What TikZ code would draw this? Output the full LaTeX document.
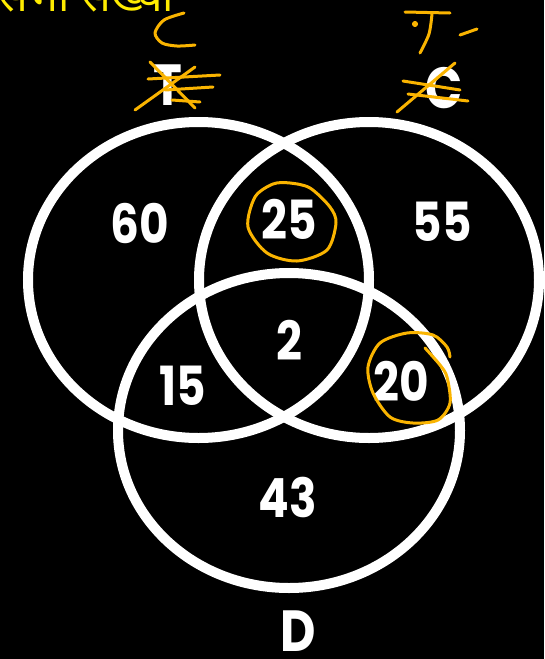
\documentclass[tikz,border=0pt]{standalone}
\usepackage{fontspec}
\setmainfont{Poppins}
\newfontfamily\devafont[Script=Devanagari]{Noto Sans}
\usepackage{graphicx}
\usepackage{xcolor}
\definecolor{marca}{RGB}{250,180,0}
\definecolor{amarillo}{RGB}{255,236,0}
\newcommand{\angosto}[1]{\scalebox{0.84}[1]{#1}}

\begin{document}
\begin{tikzpicture}[
		x=1pt, y=-1pt,
		anillo/.style={draw=white, line width=10pt},
		num/.style={text=white, inner sep=0pt, font=\fontsize{54}{54}\selectfont\bfseries},
		etiqueta/.style={num, font=\fontsize{58}{58}\selectfont\bfseries},
		marca/.style={draw=marca, line width=3pt, line cap=round, line join=round}
		]
		
		% Fondo
		\fill[black] (0,0) rectangle (544,659);
		\useasboundingbox (0,0) rectangle (544,659);
		\clip (0,0) rectangle (544,659);
		
		% Texto cortado arriba
		\node[anchor=base west, inner sep=0pt, text=amarillo, font=\devafont\fontsize{44}{44}\selectfont\bfseries] (titulo) at (-2,11) {सभी संख्या};
		
		% Círculos
		\coordinate (cT) at (198.5,280);
		\coordinate (cC) at (369,280);
		\coordinate (cD) at (289,430.5);
		\draw[anillo] (cT) ellipse [x radius=170.5, y radius=158];
		\draw[anillo] (cC) ellipse [x radius=170, y radius=158];
		\draw[anillo] (cD) ellipse [x radius=171, y radius=157.5];
		
		% Números
		\node[num] (n60) at (140,223) {\angosto{60}};
		\node[num] (n25) at (289,219) {\angosto{25}};
		\node[num] (n55) at (442,222) {\angosto{55}};
		\node[num] (n2) at (289,340) {\angosto{2}};
		\node[num] (n15) at (183,386) {\angosto{15}};
		\node[num] (n20) at (401,381) {\angosto{20}};
		\node[num] (n43) at (288,497) {\angosto{43}};
		
		% Etiquetas
		\node[etiqueta] (labT) at (168,85) {\angosto{T}};
		\node[etiqueta] (labC) at (444,88) {\angosto{C}};
		\node[etiqueta] (labD) at (298,631) {\angosto{D}};
		
		% Anotaciones
		\draw[marca] plot[smooth] coordinates {(184,13) (164,20) (155,33) (162,43) (177,46) (195,45)};
		\draw[marca] (148,79) -- (220,75);
		\draw[marca] (135,110) -- (195,67);
		\draw[marca] (150,62) -- (195,108);
		\draw[marca] (165,90) -- (213,87);
		\draw[marca] (172,100) -- (200,102);
		
		\draw[marca] (405,12) -- (450,13);
		\draw[marca] plot[smooth] coordinates {(432,14) (429,34) (420,53)};
		\fill[marca] (415,24) circle (1.8);
		\draw[marca] (460,35) -- (477,29);
		\draw[marca] (397,112) -- (455,63);
		\draw[marca] (403,81) -- (460,90);
		\draw[marca] (408,94) -- (468,101);
		
		\draw[marca] plot[smooth cycle] coordinates {(290,183) (310,188) (330,207) (336,223) (327,250) (297,261) (267,253) (248,227) (255,197) (273,184)};
		\draw[marca] plot[smooth] coordinates {(425,348) (440,365) (447,377) (450,403) (438,420) (413,423) (390,417) (373,393) (368,367) (380,343) (407,333) (433,335) (447,347) (450,357)};
	\end{tikzpicture}
\end{document}
